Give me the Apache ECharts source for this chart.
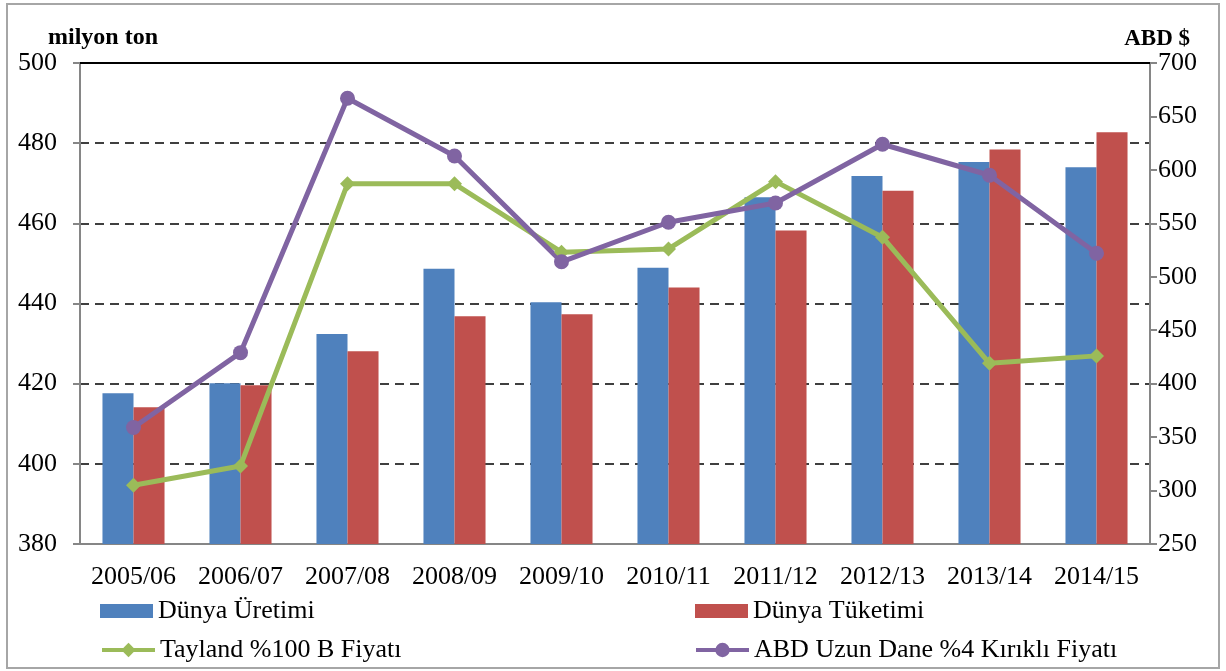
<!DOCTYPE html>
<html>
<head>
<meta charset="utf-8">
<script src="https://cdn.jsdelivr.net/npm/echarts@6/dist/echarts.min.js"></script>
<style>
  html, body { margin: 0; padding: 0; background: #fff; }
  #chart { width: 1226px; height: 671px; }
</style>
</head>
<body>
<div id="chart"></div>
<script>
const seasons = ['2005/06', '2006/07', '2007/08', '2008/09', '2009/10', '2010/11', '2011/12', '2012/13', '2013/14', '2014/15'];
const production = [417.6, 420.1, 432.4, 448.7, 440.3, 448.9, 466.5, 471.8, 475.3, 474.0];
const consumption = [414.1, 419.6, 428.1, 436.8, 437.3, 444.0, 458.2, 468.1, 478.4, 482.7];
const thaiPrice = [305, 323, 587, 587, 523, 526, 589, 537, 419, 426];
const usPrice = [359, 429, 667, 613, 514, 551, 569, 624, 595, 522];

const font = '"Liberation Serif", "Times New Roman", serif';
const grey = '#868686';
const green = '#9bbb59';
const purple = '#8064a2';

const chart = echarts.init(document.getElementById('chart'));

const legendText = { fontFamily: font, fontSize: 26, color: '#000' };

// one legend per cell so the bar boxes and the line icons can have their own sizes
function legendCell(left, top, h, item) {
  return {
    left: left, top: top, padding: 0,
    itemWidth: 53, itemHeight: h, itemGap: 0,
    textStyle: legendText,
    data: [item]
  };
}

chart.setOption({
  textStyle: { fontFamily: font, color: '#000' },
  animation: false,
  graphic: [{
    type: 'rect',
    shape: { x: 7, y: 4, width: 1212, height: 664 },
    style: { fill: 'none', stroke: '#a6a6a6', lineWidth: 2 }
  }],
  grid: { left: 80, right: 76, top: 63, bottom: 127 },
  legend: [
    legendCell(100, 598, 14, { name: 'Dünya Üretimi', icon: 'rect' }),
    legendCell(695, 598, 14, { name: 'Dünya Tüketimi', icon: 'rect' }),
    legendCell(100, 637, 18, { name: 'Tayland %100 B Fiyatı', lineStyle: { width: 4, color: green } }),
    legendCell(694, 637, 18, { name: 'ABD Uzun Dane %4 Kırıklı Fiyatı', lineStyle: { width: 4, color: purple } })
  ],
  xAxis: [{
    type: 'category',
    data: seasons,
    axisLine: { lineStyle: { color: grey, width: 2 } },
    axisTick: { length: 7, lineStyle: { color: grey, width: 2 } },
    axisLabel: { fontFamily: font, fontSize: 26, color: '#000', margin: 20, interval: 0 }
  }, {
    type: 'category',
    data: seasons,
    position: 'top',
    axisLine: { lineStyle: { color: '#000', width: 2 } },
    axisTick: { show: false },
    axisLabel: { show: false }
  }],
  yAxis: [{
    type: 'value',
    min: 380, max: 500, interval: 20,
    name: 'milyon ton',
    nameLocation: 'end',
    nameGap: 2,
    nameTextStyle: { fontFamily: font, fontSize: 24, fontWeight: 'bold', color: '#000', align: 'left', padding: [0, 0, 0, -32] },
    axisLine: { show: true, lineStyle: { color: grey, width: 2 } },
    axisTick: { show: true, length: 7, lineStyle: { color: grey, width: 2 } },
    axisLabel: { fontFamily: font, fontSize: 26, color: '#000', margin: 23 },
    splitLine: { lineStyle: { color: '#000', type: [9, 6], width: 1.5 } }
  }, {
    type: 'value',
    min: 250, max: 700, interval: 50,
    name: 'ABD $',
    nameLocation: 'end',
    nameGap: 7,
    nameTextStyle: { fontFamily: font, fontSize: 23, fontWeight: 'bold', color: '#000', align: 'right', padding: [0, -40, 0, 0] },
    axisLine: { show: true, lineStyle: { color: grey, width: 2 } },
    axisTick: { show: true, length: 7, lineStyle: { color: grey, width: 2 } },
    axisLabel: { fontFamily: font, fontSize: 26, color: '#000', margin: 8 },
    splitLine: { show: false }
  }],
  series: [{
    name: 'Dünya Üretimi',
    type: 'bar',
    data: production,
    barGap: '0%',
    barCategoryGap: '42%',
    itemStyle: { color: '#4f81bd' }
  }, {
    name: 'Dünya Tüketimi',
    type: 'bar',
    data: consumption,
    itemStyle: { color: '#c0504d' }
  }, {
    name: 'Tayland %100 B Fiyatı',
    type: 'line',
    yAxisIndex: 1,
    data: thaiPrice,
    symbol: 'diamond',
    symbolSize: 15,
    lineStyle: { color: green, width: 5 },
    itemStyle: { color: green }
  }, {
    name: 'ABD Uzun Dane %4 Kırıklı Fiyatı',
    type: 'line',
    yAxisIndex: 1,
    data: usPrice,
    symbol: 'circle',
    symbolSize: 15,
    lineStyle: { color: purple, width: 5 },
    itemStyle: { color: purple }
  }]
});
</script>
</body>
</html>
